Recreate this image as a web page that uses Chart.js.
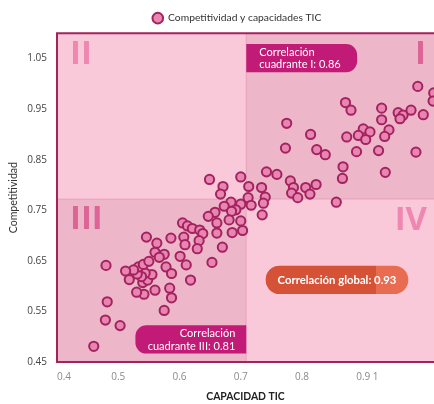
<!DOCTYPE html>
<html><head><meta charset="utf-8">
<script src="https://cdn.jsdelivr.net/npm/chart.js@4.4.1/dist/chart.umd.min.js"></script>
<style>html,body{margin:0;padding:0;background:#fff;overflow:hidden}#wrap{width:434px;height:404px;position:relative}</style>
</head><body><div id="wrap"><canvas id="c"></canvas></div>
<script>
const seriesName = 'Competitividad y capacidades TIC';
const capacidadTIC = [
  0.989,1.015,1.014,0.871,0.880,0.930,0.957,0.965,0.978,0.998,
  0.960,0.930,0.775,0.814,0.900,0.911,0.942,0.892,0.904,0.935,
  0.873,0.773,0.824,0.838,0.889,0.925,0.986,0.867,0.866,0.936,
  0.742,0.759,0.781,0.786,0.783,0.793,0.806,0.823,0.813,0.856,
  0.700,0.713,0.734,0.740,0.712,0.737,0.684,0.700,0.717,0.673,
  0.671,0.667,0.649,0.692,0.685,0.735,0.658,0.647,0.681,0.700,
  0.661,0.703,0.686,0.661,0.605,0.613,0.621,0.633,0.638,0.632,
  0.607,0.586,0.609,0.629,0.670,0.653,0.546,0.563,0.560,0.575,
  0.567,0.601,0.611,0.618,0.578,0.587,0.584,0.587,0.575,0.560,
  0.542,0.530,0.540,0.548,0.555,0.544,0.538,0.531,0.533,0.541,
  0.550,0.525,0.512,0.518,0.480,0.482,0.479,0.503,0.460
];
const competitividad = [
  0.995,0.982,0.966,0.963,0.948,0.952,0.943,0.938,0.948,0.939,
  0.931,0.929,0.922,0.900,0.911,0.905,0.909,0.898,0.890,0.896,
  0.895,0.873,0.870,0.860,0.866,0.868,0.865,0.836,0.813,0.825,
  0.826,0.821,0.808,0.795,0.784,0.775,0.795,0.801,0.782,0.766,
  0.816,0.797,0.795,0.776,0.775,0.764,0.766,0.762,0.760,0.758,
  0.797,0.782,0.811,0.751,0.748,0.741,0.746,0.738,0.731,0.729,
  0.725,0.710,0.706,0.705,0.725,0.719,0.714,0.711,0.704,0.690,
  0.697,0.695,0.682,0.674,0.677,0.647,0.697,0.685,0.667,0.663,
  0.657,0.659,0.642,0.612,0.638,0.625,0.596,0.577,0.552,0.592,
  0.584,0.588,0.607,0.612,0.623,0.626,0.619,0.624,0.638,0.643,
  0.649,0.632,0.630,0.613,0.641,0.569,0.533,0.522,0.481
];
const xTickValues = [0.4, 0.5, 0.6, 0.7, 0.8, 0.9, 0.925];
const xTickLabels = ['0.4', '0.5', '0.6', '0.7', '0.8', '0.9', '1'];
const yTickValues = [0.45, 0.55, 0.65, 0.75, 0.85, 0.95, 1.05];
const yTickLabels = ['0.45', '0.55', '0.65', '0.75', '0.85', '0.95', '1.05'];
const quadrantNames = ['I', 'II', 'III', 'IV'];
const quadrantSplit = [0.709, 0.772];           // x, y where quadrants meet
const correlationQI = ['Correlación', 'cuadrante I: 0.86'];
const correlationQIII = ['Correlación', 'cuadrante III: 0.81'];
const correlationGlobal = ['Correlación global: 0.93'];

const FONT = "Lato, 'Open Sans', sans-serif";
const TICKFONT = "'Open Sans', 'Noto Sans', sans-serif";
const NUMFONT = "'Open Sans', sans-serif";
const LIGHT = '#F9C9DA', DARK = '#EDB6C9', LINE = '#A3235F';

function rrect(ctx, x, y, w, h, r) {
  const [tl, tr, br, bl] = r;
  ctx.beginPath();
  ctx.moveTo(x + tl, y);
  ctx.lineTo(x + w - tr, y); ctx.arcTo(x + w, y, x + w, y + tr, tr);
  ctx.lineTo(x + w, y + h - br); ctx.arcTo(x + w, y + h, x + w - br, y + h, br);
  ctx.lineTo(x + bl, y + h); ctx.arcTo(x, y + h, x, y + h - bl, bl);
  ctx.lineTo(x, y + tl); ctx.arcTo(x, y, x + tl, y, tl);
  ctx.closePath();
}

const quadrants = {
  id: 'quadrants',
  afterLayout(chart) {
    const lg = chart.legend;
    if (lg) { lg.left += 20; lg.right += 20; }
  },
  beforeDatasetsDraw(chart) {
    const {ctx, chartArea: a, scales: {x, y}} = chart;
    const mx = x.getPixelForValue(quadrantSplit[0]);
    const my = y.getPixelForValue(quadrantSplit[1]);
    ctx.save();
    ctx.beginPath(); ctx.rect(a.left, a.top, a.width, a.height); ctx.clip();
    ctx.fillStyle = LIGHT; ctx.fillRect(a.left, a.top, mx - a.left, my - a.top);
    ctx.fillStyle = DARK; ctx.fillRect(mx, a.top, a.right - mx, my - a.top);
    ctx.fillStyle = DARK; ctx.fillRect(a.left, my, mx - a.left, a.bottom - my);
    ctx.fillStyle = LIGHT; ctx.fillRect(mx, my, a.right - mx, a.bottom - my);
    ctx.strokeStyle = 'rgba(214,90,140,0.35)'; ctx.lineWidth = 1;
    ctx.beginPath(); ctx.moveTo(mx, a.top); ctx.lineTo(mx, a.bottom);
    ctx.moveTo(a.left, my); ctx.lineTo(a.right, my); ctx.stroke();

    // roman numerals
    ctx.font = `bold 33px ${NUMFONT}`;
    ctx.textBaseline = 'alphabetic';
    ctx.textAlign = 'left';
    ctx.fillStyle = '#EE88B1'; ctx.fillText(quadrantNames[1], a.left + 13, a.top + 31);
    ctx.fillStyle = '#DC6596'; ctx.fillText(quadrantNames[2], a.left + 13, my + 30);
    ctx.textAlign = 'right';
    ctx.fillStyle = '#DC6596'; ctx.fillText(quadrantNames[0], a.right - 8, a.top + 31);
    ctx.fillStyle = '#EE88B1'; ctx.fillText(quadrantNames[3], a.right - 7, my + 31);

    // correlation boxes
    ctx.font = `11px ${FONT}`;
    let bx = mx, bt = y.getPixelForValue(1.079), bb = y.getPixelForValue(1.023);
    let br = x.getPixelForValue(0.890);
    ctx.fillStyle = '#C21B77'; rrect(ctx, bx, bt, br - bx, bb - bt, [0, 11, 11, 0]); ctx.fill();
    ctx.fillStyle = '#fff'; ctx.textAlign = 'left'; ctx.textBaseline = 'middle';
    ctx.fillText(correlationQI[0], bx + 13, bt + 8.5);
    ctx.fillText(correlationQI[1], bx + 13, bt + 21);

    bx = x.getPixelForValue(0.528); br = mx;
    bt = y.getPixelForValue(0.5225); bb = y.getPixelForValue(0.4666);
    ctx.fillStyle = '#C21B77'; rrect(ctx, bx, bt, br - bx, bb - bt, [11, 0, 0, 11]); ctx.fill();
    ctx.fillStyle = '#fff'; ctx.textAlign = 'right';
    ctx.fillText(correlationQIII[0], br - 11, bt + 8.5);
    ctx.fillText(correlationQIII[1], br - 11, bt + 21);

    bx = x.getPixelForValue(0.7407); br = x.getPixelForValue(0.9736);
    bt = y.getPixelForValue(0.6405); bb = y.getPixelForValue(0.5844);
    const h = bb - bt;
    ctx.save();
    rrect(ctx, bx, bt, br - bx, h, [h / 2, h / 2, h / 2, h / 2]);
    ctx.fillStyle = '#E86C52'; ctx.fill(); ctx.clip();
    ctx.fillStyle = '#D55237';
    ctx.fillRect(bx, bt, x.getPixelForValue(0.9208) - bx, h);
    ctx.restore();
    ctx.font = `bold 11.3px ${FONT}`;
    ctx.fillStyle = '#fff'; ctx.textAlign = 'center'; ctx.textBaseline = 'middle';
    ctx.fillText(correlationGlobal[0], (bx + br) / 2, bt + h / 2 + 0.5);
    ctx.restore();
  },
  afterDatasetsDraw(chart) {
    const {ctx, chartArea: a} = chart;
    ctx.save();
    ctx.strokeStyle = LINE; ctx.lineWidth = 2;
    ctx.beginPath();
    ctx.moveTo(a.right + 2, a.top); ctx.lineTo(a.left, a.top);
    ctx.lineTo(a.left, a.bottom); ctx.lineTo(a.right + 2, a.bottom);
    ctx.stroke();
    ctx.restore();
  }
};

const points = capacidadTIC.map((v, i) => ({x: v, y: competitividad[i]}));

new Chart(document.getElementById('c'), {
  type: 'scatter',
  data: {
    datasets: [{
      label: seriesName,
      data: points,
      pointRadius: 4.6,
      pointHoverRadius: 4.6,
      pointBorderWidth: 2,
      backgroundColor: '#E985B1',
      borderColor: '#A3235F',
      pointBackgroundColor: '#E985B1',
      pointBorderColor: '#A3235F'
    }]
  },
  options: {
    responsive: true,
    maintainAspectRatio: false,
    animation: false,
    devicePixelRatio: 1,
    layout: {padding: 0, autoPadding: false},
    plugins: {
      legend: {
        position: 'top',
        labels: {
          usePointStyle: true,
          pointStyle: 'circle',
          boxWidth: 11,
          boxHeight: 7.5,
          padding: 13,
          color: '#333',
          font: {family: FONT, size: 10.3}
        }
      },
      tooltip: {enabled: false}
    },
    scales: {
      x: {
        type: 'linear',
        min: 0.4,
        max: 1.0155,
        afterBuildTicks: s => { s.ticks = xTickValues.map(v => ({value: v})); },
        afterFit: s => { s.height = 42; s.paddingLeft = 0; s.paddingRight = 0; },
        grid: {display: false, drawTicks: false},
        border: {display: false},
        ticks: {
          align: 'inner',
          autoSkip: false,
          maxRotation: 0,
          padding: 9,
          color: '#8a8a8a',
          font: {family: TICKFONT, size: 10},
          callback: (v, i) => xTickLabels[i]
        },
        title: {
          display: true,
          text: 'CAPACIDAD TIC',
          color: '#222',
          font: {family: FONT, size: 10.4, weight: 'bold'},
          padding: {top: 0, bottom: 1}
        }
      },
      y: {
        type: 'linear',
        min: 0.45,
        max: 1.1,
        afterBuildTicks: s => { s.ticks = yTickValues.map(v => ({value: v})); },
        afterFit: s => { s.width = 57; },
        grid: {display: false, drawTicks: false},
        border: {display: false},
        ticks: {
          autoSkip: false,
          padding: 10,
          color: '#444',
          font: {family: TICKFONT, size: 10},
          callback: (v, i) => yTickLabels[i]
        },
        title: {
          display: true,
          text: 'Competitividad',
          color: '#333',
          font: {family: FONT, size: 10.6},
          padding: {top: 7, bottom: 0}
        }
      }
    }
  },
  plugins: [quadrants]
});
</script></body></html>
